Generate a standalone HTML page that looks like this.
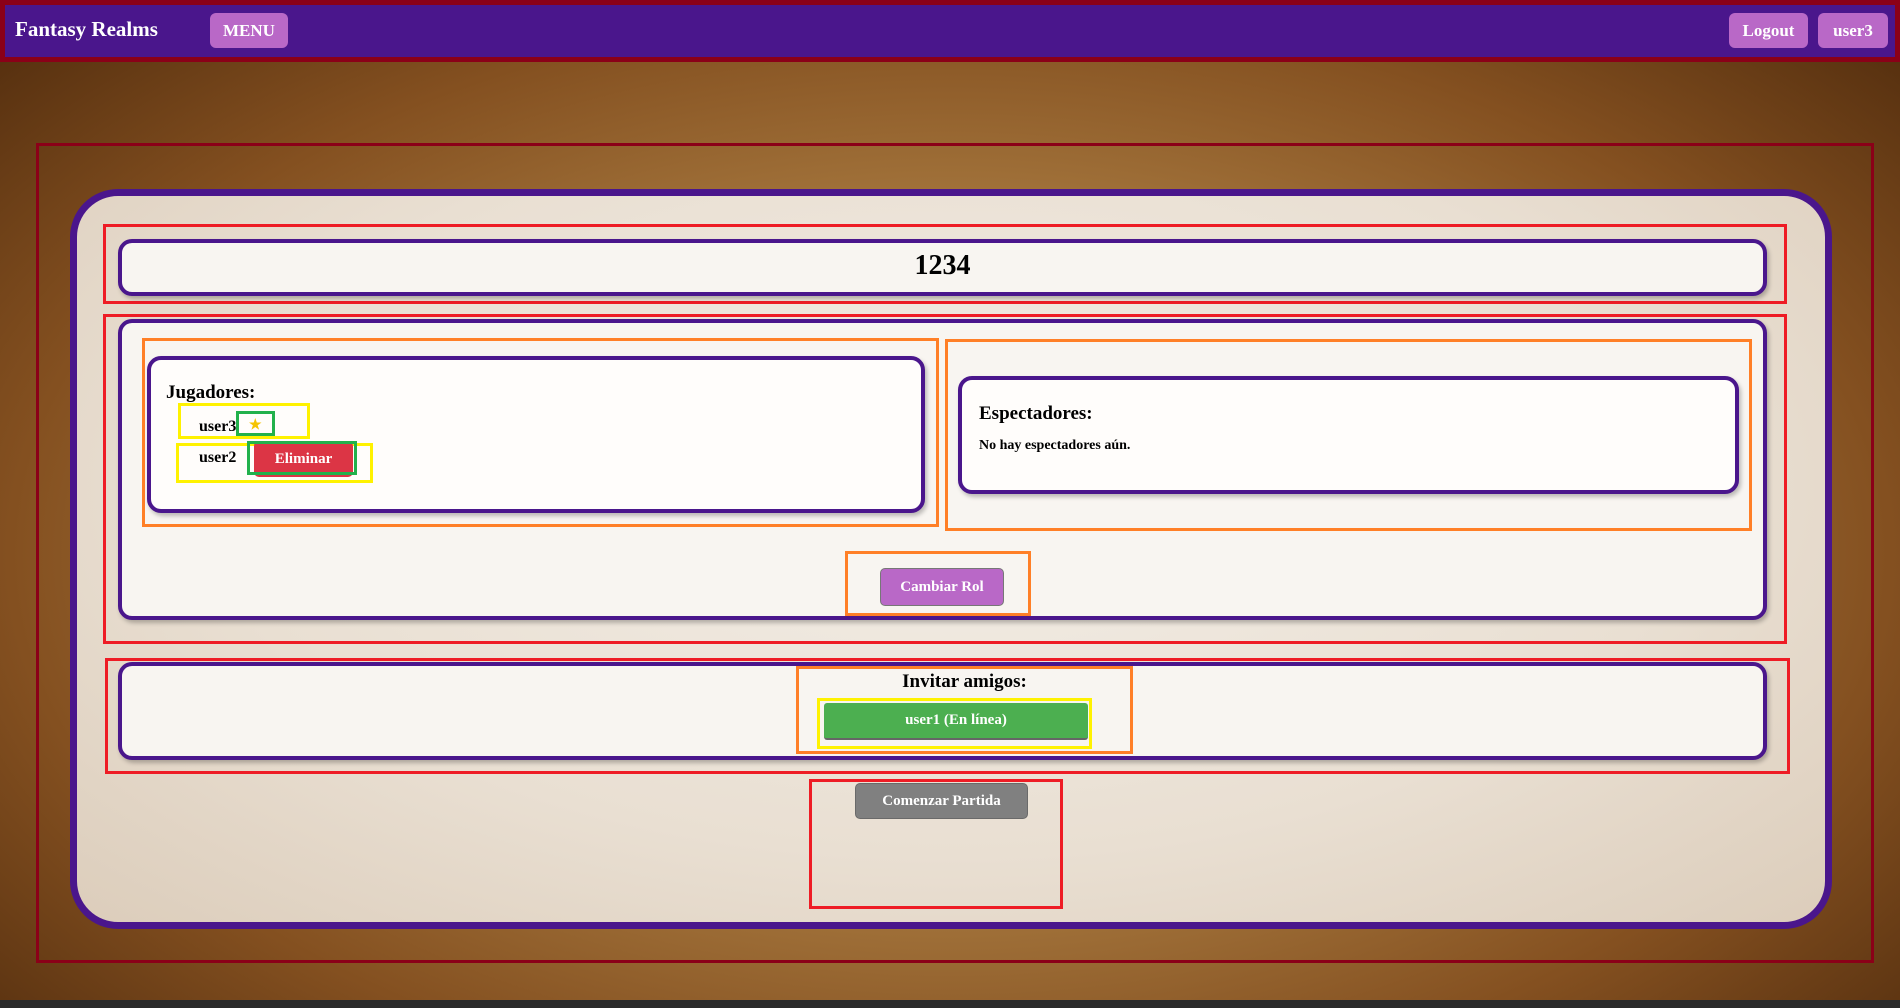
<!DOCTYPE html>
<html><head><meta charset="utf-8"><style>
*{box-sizing:border-box;margin:0;padding:0}
body{width:1900px;height:1008px;overflow:hidden;position:relative;font-family:"Liberation Serif",serif;font-weight:bold;
background:radial-gradient(ellipse at 50% 55%,#c8a068 0%,#a87a40 40%,#845020 70%,#4e2a0c 100%);}
.a{position:absolute}
.nav{left:0;top:0;width:1900px;height:62px;background:#4a168c;border:5px solid #8b0018;border-right-width:5px}
.btn{position:absolute;background:#b968c7;color:#fff;border-radius:6px;font-size:17px;display:flex;align-items:center;justify-content:center}
.card{position:absolute;border:4px solid #4a168c;border-radius:14px;background:#f8f5f1;box-shadow:2px 3px 4px rgba(0,0,0,.25)}
.r{position:absolute;border:3px solid #ee1c25}
.o{position:absolute;border:3px solid #ff7f27}
.y{position:absolute;border:3px solid #fff200}
.g{position:absolute;border:3px solid #22b14c}
</style></head><body>
<div class="a nav"></div>
<div class="a" style="left:15px;top:17px;color:#fff;font-size:21px">Fantasy Realms</div>
<div class="btn" style="left:210px;top:13px;width:78px;height:35px">MENU</div>
<div class="btn" style="left:1729px;top:13px;width:79px;height:35px">Logout</div>
<div class="btn" style="left:1818px;top:13px;width:70px;height:35px">user3</div>
<div class="a" style="left:0;top:1000px;width:1900px;height:8px;background:#2a2a2a"></div>

<div class="a" style="left:36px;top:143px;width:1838px;height:820px;border:3px solid #8b0018"></div>
<div class="a" style="left:70px;top:189px;width:1762px;height:740px;border:7px solid #4a168c;border-radius:48px;background:radial-gradient(ellipse at 50% 40%,#f3eee7 0%,#e9dfd2 60%,#dccdbb 100%)"></div>

<div class="r" style="left:103px;top:224px;width:1684px;height:80px"></div>
<div class="card" style="left:118px;top:239px;width:1649px;height:57px"></div>
<div class="a" style="left:118px;top:250px;width:1649px;text-align:center;font-size:28px">1234</div>

<div class="r" style="left:103px;top:314px;width:1684px;height:330px"></div>
<div class="card" style="left:118px;top:319px;width:1649px;height:301px"></div>
<div class="o" style="left:142px;top:338px;width:797px;height:189px"></div>
<div class="card" style="left:147px;top:356px;width:778px;height:157px;background:#fffdfb"></div>
<div class="a" style="left:166px;top:382px;font-size:19px">Jugadores:</div>
<div class="y" style="left:178px;top:403px;width:132px;height:36px"></div>
<div class="a" style="left:199px;top:418px;font-size:16px">user3</div>
<div class="a" style="left:249px;top:417px;font-size:14px;color:#f5c400">★</div>
<div class="g" style="left:236px;top:411px;width:39px;height:25px"></div>
<div class="y" style="left:176px;top:443px;width:197px;height:40px"></div>
<div class="a" style="left:199px;top:449px;font-size:16px">user2</div>
<div class="btn" style="left:254px;top:441px;width:99px;height:36px;background:#dc3545;font-size:15px;border-radius:5px">Eliminar</div>
<div class="g" style="left:247px;top:441px;width:110px;height:34px"></div>

<div class="o" style="left:945px;top:339px;width:807px;height:192px"></div>
<div class="card" style="left:958px;top:376px;width:781px;height:118px;background:#fffdfb"></div>
<div class="a" style="left:979px;top:403px;font-size:19px">Espectadores:</div>
<div class="a" style="left:979px;top:438px;font-size:14px">No hay espectadores aún.</div>

<div class="o" style="left:845px;top:551px;width:186px;height:65px"></div>
<div class="btn" style="left:880px;top:568px;width:124px;height:38px;border:1px solid #777;font-size:15px;border-radius:5px">Cambiar Rol</div>

<div class="r" style="left:105px;top:658px;width:1685px;height:116px"></div>
<div class="card" style="left:118px;top:662px;width:1649px;height:98px"></div>
<div class="o" style="left:796px;top:666px;width:337px;height:88px"></div>
<div class="a" style="left:796px;top:671px;width:337px;text-align:center;font-size:19px">Invitar amigos:</div>
<div class="y" style="left:817px;top:698px;width:275px;height:51px"></div>
<div class="btn" style="left:824px;top:703px;width:264px;height:37px;background:#4caf50;font-size:15px;border-radius:3px;border-bottom:2px solid #666">user1 (En línea)</div>

<div class="r" style="left:809px;top:779px;width:254px;height:130px"></div>
<div class="btn" style="left:855px;top:783px;width:173px;height:36px;background:#808080;font-size:15px;border-radius:5px;border:1px solid #6a6a6a">Comenzar Partida</div>
</body></html>
